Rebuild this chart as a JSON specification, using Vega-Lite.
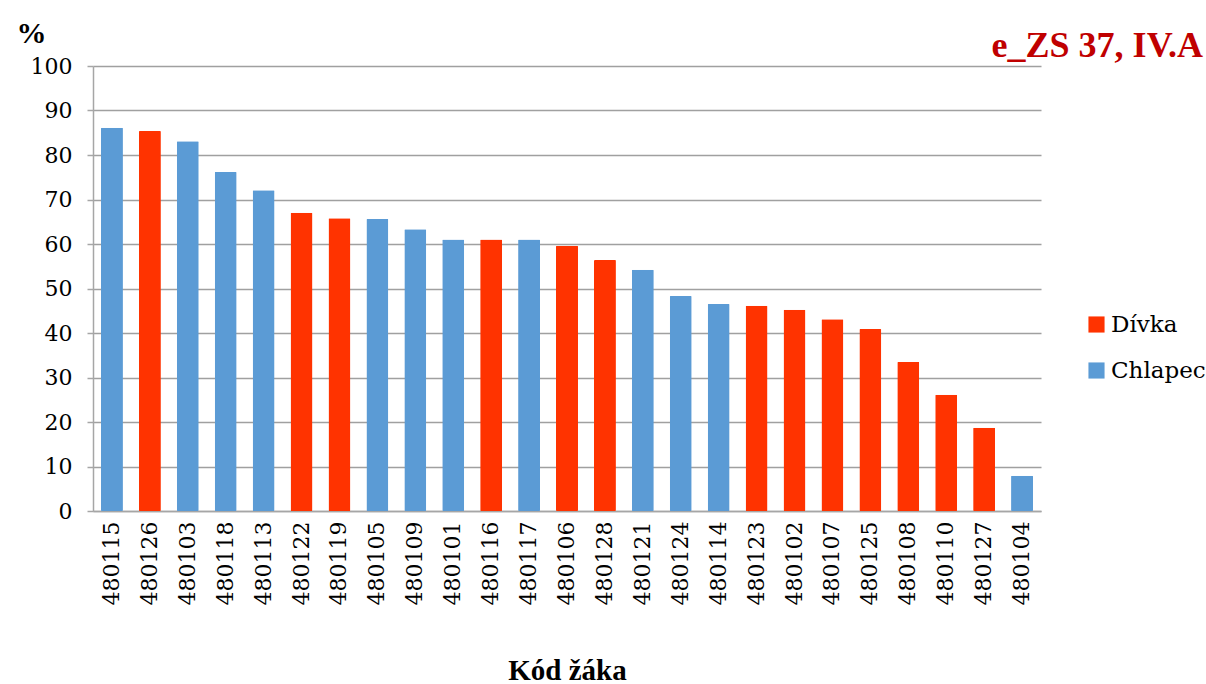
{
  "$schema": "https://vega.github.io/schema/vega-lite/v6.json",
  "autosize": "none",
  "width": 948,
  "height": 445,
  "padding": {"left": 93, "top": 66, "right": 165, "bottom": 173},
  "background": "white",
  "title": {
    "text": "e_ZS 37, IV.A",
    "anchor": "end",
    "frame": "group",
    "dx": 162,
    "dy": 91,
    "offset": 8,
    "font": "Liberation Serif",
    "fontSize": 36,
    "fontWeight": "bold",
    "color": "#C00000",
    "baseline": "bottom"
  },
  "data": {
    "values": [
      {"kod": "480115", "pohlavi": "Chlapec", "procenta": 86.1},
      {"kod": "480126", "pohlavi": "Dívka", "procenta": 85.4},
      {"kod": "480103", "pohlavi": "Chlapec", "procenta": 83.1},
      {"kod": "480118", "pohlavi": "Chlapec", "procenta": 76.2},
      {"kod": "480113", "pohlavi": "Chlapec", "procenta": 72.1},
      {"kod": "480122", "pohlavi": "Dívka", "procenta": 67.0},
      {"kod": "480119", "pohlavi": "Dívka", "procenta": 65.8},
      {"kod": "480105", "pohlavi": "Chlapec", "procenta": 65.6},
      {"kod": "480109", "pohlavi": "Chlapec", "procenta": 63.3},
      {"kod": "480101", "pohlavi": "Chlapec", "procenta": 61.0},
      {"kod": "480116", "pohlavi": "Dívka", "procenta": 61.0},
      {"kod": "480117", "pohlavi": "Chlapec", "procenta": 61.0},
      {"kod": "480106", "pohlavi": "Dívka", "procenta": 59.6},
      {"kod": "480128", "pohlavi": "Dívka", "procenta": 56.4},
      {"kod": "480121", "pohlavi": "Chlapec", "procenta": 54.2},
      {"kod": "480124", "pohlavi": "Chlapec", "procenta": 48.3},
      {"kod": "480114", "pohlavi": "Chlapec", "procenta": 46.5},
      {"kod": "480123", "pohlavi": "Dívka", "procenta": 46.1},
      {"kod": "480102", "pohlavi": "Dívka", "procenta": 45.2},
      {"kod": "480107", "pohlavi": "Dívka", "procenta": 43.1},
      {"kod": "480125", "pohlavi": "Dívka", "procenta": 40.9},
      {"kod": "480108", "pohlavi": "Dívka", "procenta": 33.5},
      {"kod": "480110", "pohlavi": "Dívka", "procenta": 26.1},
      {"kod": "480127", "pohlavi": "Dívka", "procenta": 18.7},
      {"kod": "480104", "pohlavi": "Chlapec", "procenta": 7.9}
    ]
  },
  "mark": {"type": "bar", "cornerRadius": 1},
  "encoding": {
    "x": {
      "field": "kod",
      "type": "nominal",
      "sort": null,
      "scale": {"paddingInner": 0.42, "paddingOuter": 0.21},
      "axis": {
        "title": "Kód žáka",
        "titleFont": "Liberation Serif",
        "titleFontSize": 29,
        "titleFontWeight": "bold",
        "titleColor": "black",
        "titleY": 168,
        "titleBaseline": "alphabetic",
        "labelAngle": -90,
        "labelAlign": "right",
        "labelBaseline": "middle",
        "labelFont": "DejaVu Serif",
        "labelFontSize": 22,
        "labelColor": "black",
        "labelPadding": 10,
        "ticks": false,
        "domainColor": "#a6a6a6",
        "domainWidth": 1.5,
        "grid": false
      }
    },
    "y": {
      "field": "procenta",
      "type": "quantitative",
      "scale": {"domain": [0, 100], "nice": false},
      "axis": {
        "title": "%",
        "titleFont": "Liberation Serif",
        "titleAngle": 0,
        "titleX": -62,
        "titleY": -33,
        "titleAlign": "center",
        "titleBaseline": "middle",
        "titleFontSize": 30,
        "titleFontWeight": "bold",
        "titleColor": "black",
        "values": [0, 10, 20, 30, 40, 50, 60, 70, 80, 90, 100],
        "labelFont": "DejaVu Serif",
        "labelFontSize": 22,
        "labelColor": "black",
        "labelPadding": 15,
        "tickSize": 6,
        "tickColor": "#a6a6a6",
        "tickWidth": 1.5,
        "domainColor": "#a6a6a6",
        "domainWidth": 1.5,
        "grid": true,
        "gridColor": "#a0a0a0",
        "gridWidth": 1.3
      }
    },
    "color": {
      "field": "pohlavi",
      "type": "nominal",
      "scale": {"domain": ["Dívka", "Chlapec"], "range": ["#FF3300", "#5B9BD5"]},
      "legend": {
        "title": null,
        "orient": "none",
        "legendX": 992,
        "legendY": 247,
        "symbolType": "square",
        "symbolSize": 260,
        "symbolStrokeWidth": 0,
        "labelFont": "DejaVu Serif",
        "labelFontSize": 23,
        "labelColor": "black",
        "labelOffset": 3,
        "rowPadding": 22
      }
    }
  },
  "config": {
    "view": {"stroke": null}
  }
}
